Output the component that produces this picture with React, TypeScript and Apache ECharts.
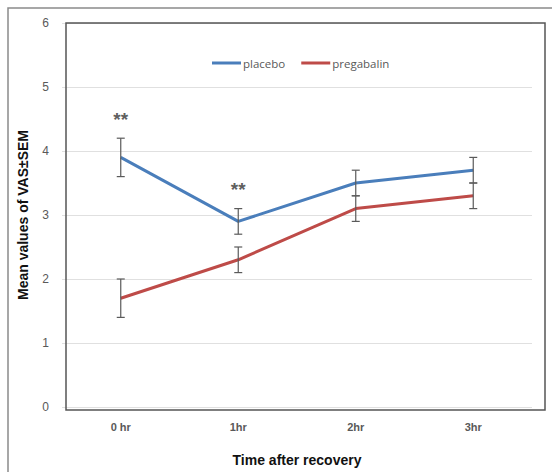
import React, { useEffect, useRef } from "react";
import * as echarts from "echarts";

const categories = ["0 hr", "1hr", "2hr", "3hr"];
const placebo = [3.9, 2.9, 3.5, 3.7];
const placeboSem = [0.3, 0.2, 0.2, 0.2];
const pregabalin = [1.7, 2.3, 3.1, 3.3];
const pregabalinSem = [0.3, 0.2, 0.2, 0.2];
const yTicks = [0, 1, 2, 3, 4, 5, 6];
const stars = [
  { cat: "0 hr", y: 4.5, text: "**" },
  { cat: "1hr", y: 3.4, text: "**" },
];

const errData = (vals: number[], sem: number[]) =>
  vals.map((v, i) => [i, v - sem[i], v + sem[i]]);

const renderErr = (params: any, api: any) => {
  const x = api.value(0);
  const lo = api.coord([x, api.value(1)]);
  const hi = api.coord([x, api.value(2)]);
  const w = 4;
  const style = { stroke: "#5a5a5a", lineWidth: 1.2 };
  return {
    type: "group",
    children: [
      { type: "line", shape: { x1: lo[0], y1: lo[1], x2: hi[0], y2: hi[1] }, style },
      { type: "line", shape: { x1: lo[0] - w, y1: lo[1], x2: lo[0] + w, y2: lo[1] }, style },
      { type: "line", shape: { x1: hi[0] - w, y1: hi[1], x2: hi[0] + w, y2: hi[1] }, style },
    ],
  };
};

export default function App() {
  const ref = useRef<HTMLDivElement>(null);
  useEffect(() => {
    if (!ref.current) return;
    const chart = echarts.init(ref.current, undefined, { renderer: "svg" });
    chart.setOption({
      animation: false,
      backgroundColor: "#fff",
      textStyle: { fontFamily: "Liberation Sans, Arial, sans-serif" },
      grid: { left: 62, right: 20, top: 23, bottom: 61 },
      legend: {
        top: 57,
        left: 212,
        padding: 0,
        itemWidth: 29,
        itemHeight: 3,
        itemGap: 16,
        icon: "rect",
        textStyle: { color: "#595959", fontSize: 11.5, fontFamily: "Open Sans, sans-serif", padding: [0, 0, 0, -3] },
        data: ["placebo", "pregabalin"],
      },
      xAxis: {
        type: "category",
        data: categories,
        boundaryGap: true,
        axisLine: { show: false },
        axisTick: { show: false },
        axisLabel: { color: "#595959", fontSize: 11, fontWeight: "bold", margin: 14 },
        name: "Time after recovery",
        nameLocation: "middle",
        nameGap: 46,
        nameTextStyle: { color: "#111", fontSize: 14, fontWeight: "bold" },
      },
      yAxis: {
        type: "value",
        min: 0,
        max: 6,
        interval: 1,
        axisLine: { show: false },
        axisTick: { show: false },
        axisLabel: { color: "#595959", fontSize: 12, margin: 13, formatter: (v: number) => (yTicks.includes(v) ? String(v) : "") },
        splitLine: { lineStyle: { color: "#e0e0e0", width: 1 } },
        name: "Mean values of VAS±SEM",
        nameLocation: "middle",
        nameGap: 32,
        nameTextStyle: { color: "#111", fontSize: 14, fontWeight: "bold" },
      },
      graphic: [
        { type: "rect", shape: { x: 8, y: 8, width: 600, height: 520 }, style: { fill: "none", stroke: "#8a8a8a", lineWidth: 1.5 }, silent: true },
        { type: "rect", shape: { x: 66, y: 23, width: 479, height: 387 }, style: { fill: "none", stroke: "#555", lineWidth: 1.5 }, silent: true, z: 10 },
      ],
      series: [
        {
          name: "placebo",
          type: "line",
          data: placebo,
          color: "#4a7ebb",
          lineStyle: { width: 3, color: "#4a7ebb" },
          symbol: "none",
          z: 3,
        },
        {
          name: "pregabalin",
          type: "line",
          data: pregabalin,
          color: "#be4b48",
          lineStyle: { width: 3, color: "#be4b48" },
          symbol: "none",
          z: 3,
        },
        { type: "custom", renderItem: renderErr, data: errData(placebo, placeboSem), z: 4, silent: true },
        { type: "custom", renderItem: renderErr, data: errData(pregabalin, pregabalinSem), z: 4, silent: true },
        {
          type: "scatter",
          symbolSize: 0,
          data: stars.map((s) => ({ value: [s.cat, s.y], name: s.text })),
          label: { show: true, position: "inside", formatter: (p: any) => p.name, color: "#333", fontSize: 19, fontWeight: "bold" },
          silent: true,
        },
      ],
    });
    return () => chart.dispose();
  }, []);
  return <div ref={ref} style={{ width: 552, height: 472, position: "absolute", left: 0, top: 0 }} />;
}
